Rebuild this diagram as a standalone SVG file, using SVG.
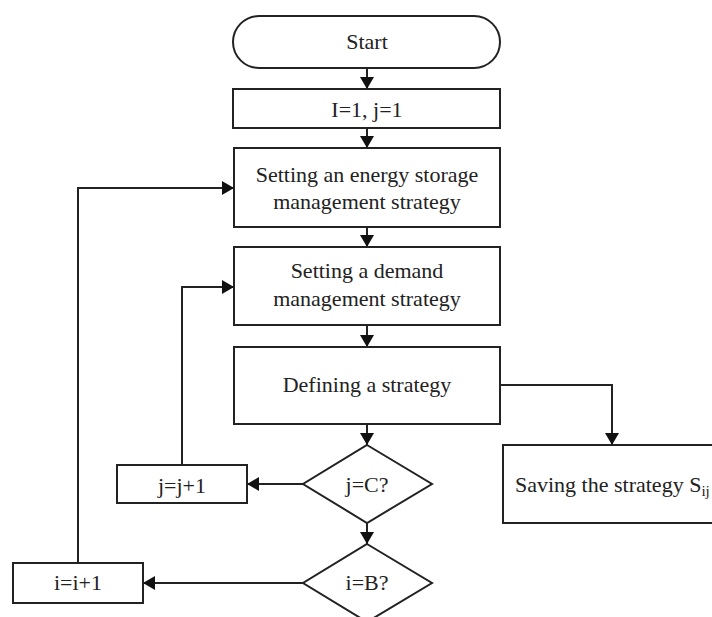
<svg xmlns="http://www.w3.org/2000/svg" width="712" height="617" viewBox="0 0 712 617">
<defs>
<marker id="ah" markerWidth="12" markerHeight="14" viewBox="0 0 12 14" refX="12" refY="7" orient="auto" markerUnits="userSpaceOnUse">
<path d="M0,0 L12,7 L0,14 Z" fill="#111"/>
</marker>
</defs>
<style>
.n{fill:#fff;stroke:#222;stroke-width:2}
.t{font-family:"Liberation Serif","Times New Roman",serif;font-size:22px;fill:#222;text-anchor:middle}
.c{fill:none;stroke:#222;stroke-width:2;marker-end:url(#ah)}
</style>
<rect width="712" height="617" fill="#fff"/>
<g id="connectors">
<path class="c" d="M367,68 V89"/>
<path class="c" d="M367,128 V148"/>
<path class="c" d="M367,227 V247"/>
<path class="c" d="M367,325 V347"/>
<path class="c" d="M367,424 V445"/>
<path class="c" d="M367,523 V544"/>
<path class="c" d="M500,385 H612 V445"/>
<path class="c" d="M303,484 H247"/>
<path class="c" d="M182,465 V287 H234"/>
<path class="c" d="M303,583 H143"/>
<path class="c" d="M78,563 V188 H234"/>
</g>
<g id="start">
<rect class="n" x="233" y="16" width="267" height="52" rx="26" ry="26"/>
<text class="t" x="367" y="49">Start</text>
</g>
<g id="init">
<rect class="n" x="233" y="89" width="267" height="39"/>
<text class="t" x="367" y="117">I=1, j=1</text>
</g>
<g id="energy">
<rect class="n" x="234" y="148" width="266" height="79"/>
<text class="t" x="367" y="182">Setting an energy storage</text>
<text class="t" x="367" y="209">management strategy</text>
</g>
<g id="demand">
<rect class="n" x="234" y="247" width="266" height="78"/>
<text class="t" x="367" y="278">Setting a demand</text>
<text class="t" x="367" y="306">management strategy</text>
</g>
<g id="define">
<rect class="n" x="234" y="347" width="266" height="77"/>
<text class="t" x="367" y="392">Defining a strategy</text>
</g>
<g id="jc">
<polygon class="n" points="367,445 432,484 367,523 303,484"/>
<text class="t" x="367" y="492">j=C?</text>
</g>
<g id="ib">
<polygon class="n" points="367,544 432,583 367,622 303,583"/>
<text class="t" x="367" y="590">i=B?</text>
</g>
<g id="jinc">
<rect class="n" x="117" y="465" width="130" height="38"/>
<text class="t" x="182" y="493">j=j+1</text>
</g>
<g id="iinc">
<rect class="n" x="13" y="563" width="130" height="40"/>
<text class="t" x="78" y="590">i=i+1</text>
</g>
<g id="save">
<rect class="n" x="503" y="445" width="220" height="78"/>
<text class="t" x="515" y="492" style="text-anchor:start">Saving the strategy S<tspan font-size="15" dy="4">ij</tspan></text>
</g>
</svg>
